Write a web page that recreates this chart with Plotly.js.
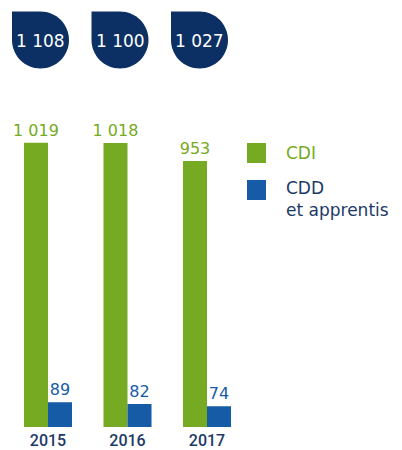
<!DOCTYPE html>
<html>
<head>
<meta charset="utf-8">
<script src="https://cdn.plot.ly/plotly-3.0.1.min.js"></script>
<style>
  html, body { margin: 0; padding: 0; background: #ffffff; }
  #chart { width: 402px; height: 450px; }
</style>
</head>
<body>
<div id="chart"></div>
<script>
// data
const years = ['2015', '2016', '2017'];
const seriesNames = ['CDI', 'CDD<br>et apprentis'];
const cdi = [1019, 1018, 953];
const cdd = [89, 82, 74];
const totals = [1108, 1100, 1027];

const GREEN = '#76aa22';
const BLUE = '#155ba5';
const NAVY = '#0d3064';
const TEXT_NAVY = '#1c3a66';
const FONT = '"DejaVu Sans", sans-serif';

const W = 402, H = 450, BASE = 427;
// pixel -> paper helpers (margins l/r/t = 0, b = H - BASE)
const px = v => v / W;
const py = v => (BASE - v) / BASE;

const fmt = v => String(v).replace(/\B(?=(\d{3})+(?!\d))/g, ' ');
const xIdx = years.map((_, i) => i);

const traces = [
    {
        x: xIdx, y: cdi, type: 'bar', name: seriesNames[0],
        marker: { color: GREEN },
        texttemplate: '%{y:,}', textposition: 'outside', constraintext: 'none',
        cliponaxis: false,
        textfont: { family: FONT, size: 16, color: GREEN },
        hoverinfo: 'skip'
    },
    {
        x: xIdx, y: cdd, type: 'bar', name: seriesNames[1],
        marker: { color: BLUE },
        texttemplate: '%{y:,}', textposition: 'outside', constraintext: 'none',
        cliponaxis: false,
        textfont: { family: FONT, size: 16, color: BLUE },
        hoverinfo: 'skip'
    }
];

// drop-shaped bubbles with totals (square top-left corner)
const r = 28.5, k = 0.5523 * r, off = -7.5;
const dropPath = [
    `M${-r + off},${r}`, `L${off},${r}`,
    `C${k + off},${r} ${r + off},${k} ${r + off},0`,
    `C${r + off},${-k} ${k + off},${-r} ${off},${-r}`,
    `C${-k + off},${-r} ${-r + off},${-k} ${-r + off},0`, 'Z'
].join(' ');

const shapes = xIdx.map(i => ({
    type: 'path', xref: 'x', yref: 'paper',
    xsizemode: 'pixel', ysizemode: 'pixel',
    xanchor: i, yanchor: py(40),
    path: dropPath,
    fillcolor: NAVY, line: { width: 0 }
}));

// legend squares
shapes.push(
    { type: 'rect', xref: 'paper', yref: 'paper', x0: px(247), x1: px(266), y0: py(163), y1: py(143), fillcolor: GREEN, line: { width: 0 } },
    { type: 'rect', xref: 'paper', yref: 'paper', x0: px(247), x1: px(266), y0: py(200), y1: py(180), fillcolor: BLUE, line: { width: 0 } }
);

const annotations = xIdx.map(i => ({
    x: i, xref: 'x', y: py(41), yref: 'paper', xshift: off,
    text: fmt(totals[i]), showarrow: false,
    xanchor: 'center', yanchor: 'middle',
    font: { family: FONT, size: 17, color: '#ffffff' }
}));

annotations.push(
    { x: px(284), y: py(153), xref: 'paper', yref: 'paper', text: seriesNames[0], showarrow: false,
      xanchor: 'left', yanchor: 'middle', align: 'left',
      font: { family: FONT, size: 17, color: GREEN } },
    { x: px(284), y: py(176), xref: 'paper', yref: 'paper', text: seriesNames[1], showarrow: false,
      xanchor: 'left', yanchor: 'top', align: 'left',
      font: { family: FONT, size: 17, color: TEXT_NAVY } }
);

const layout = {
    width: W, height: H,
    margin: { t: 0, r: 0, b: H - BASE, l: 0 },
    paper_bgcolor: '#ffffff',
    plot_bgcolor: '#ffffff',
    separators: ', ',
    showlegend: false,
    barmode: 'group',
    bargap: 0.396,
    bargroupgap: 0,
    xaxis: {
        domain: [px(8.25), px(246.75)],
        range: [-0.5, 2.5],
        tickvals: xIdx, ticktext: years,
        ticks: '', showgrid: false, zeroline: false, showline: false,
        ticklabelstandoff: 2,
        tickfont: { family: 'Roboto, sans-serif', size: 16, color: TEXT_NAVY, weight: 500 }
    },
    yaxis: {
        range: [0, BASE / 0.279],
        visible: false, showgrid: false, zeroline: false
    },
    shapes: shapes,
    annotations: annotations
};

Plotly.newPlot('chart', traces, layout, { displayModeBar: false, staticPlot: true });
</script>
</body>
</html>
